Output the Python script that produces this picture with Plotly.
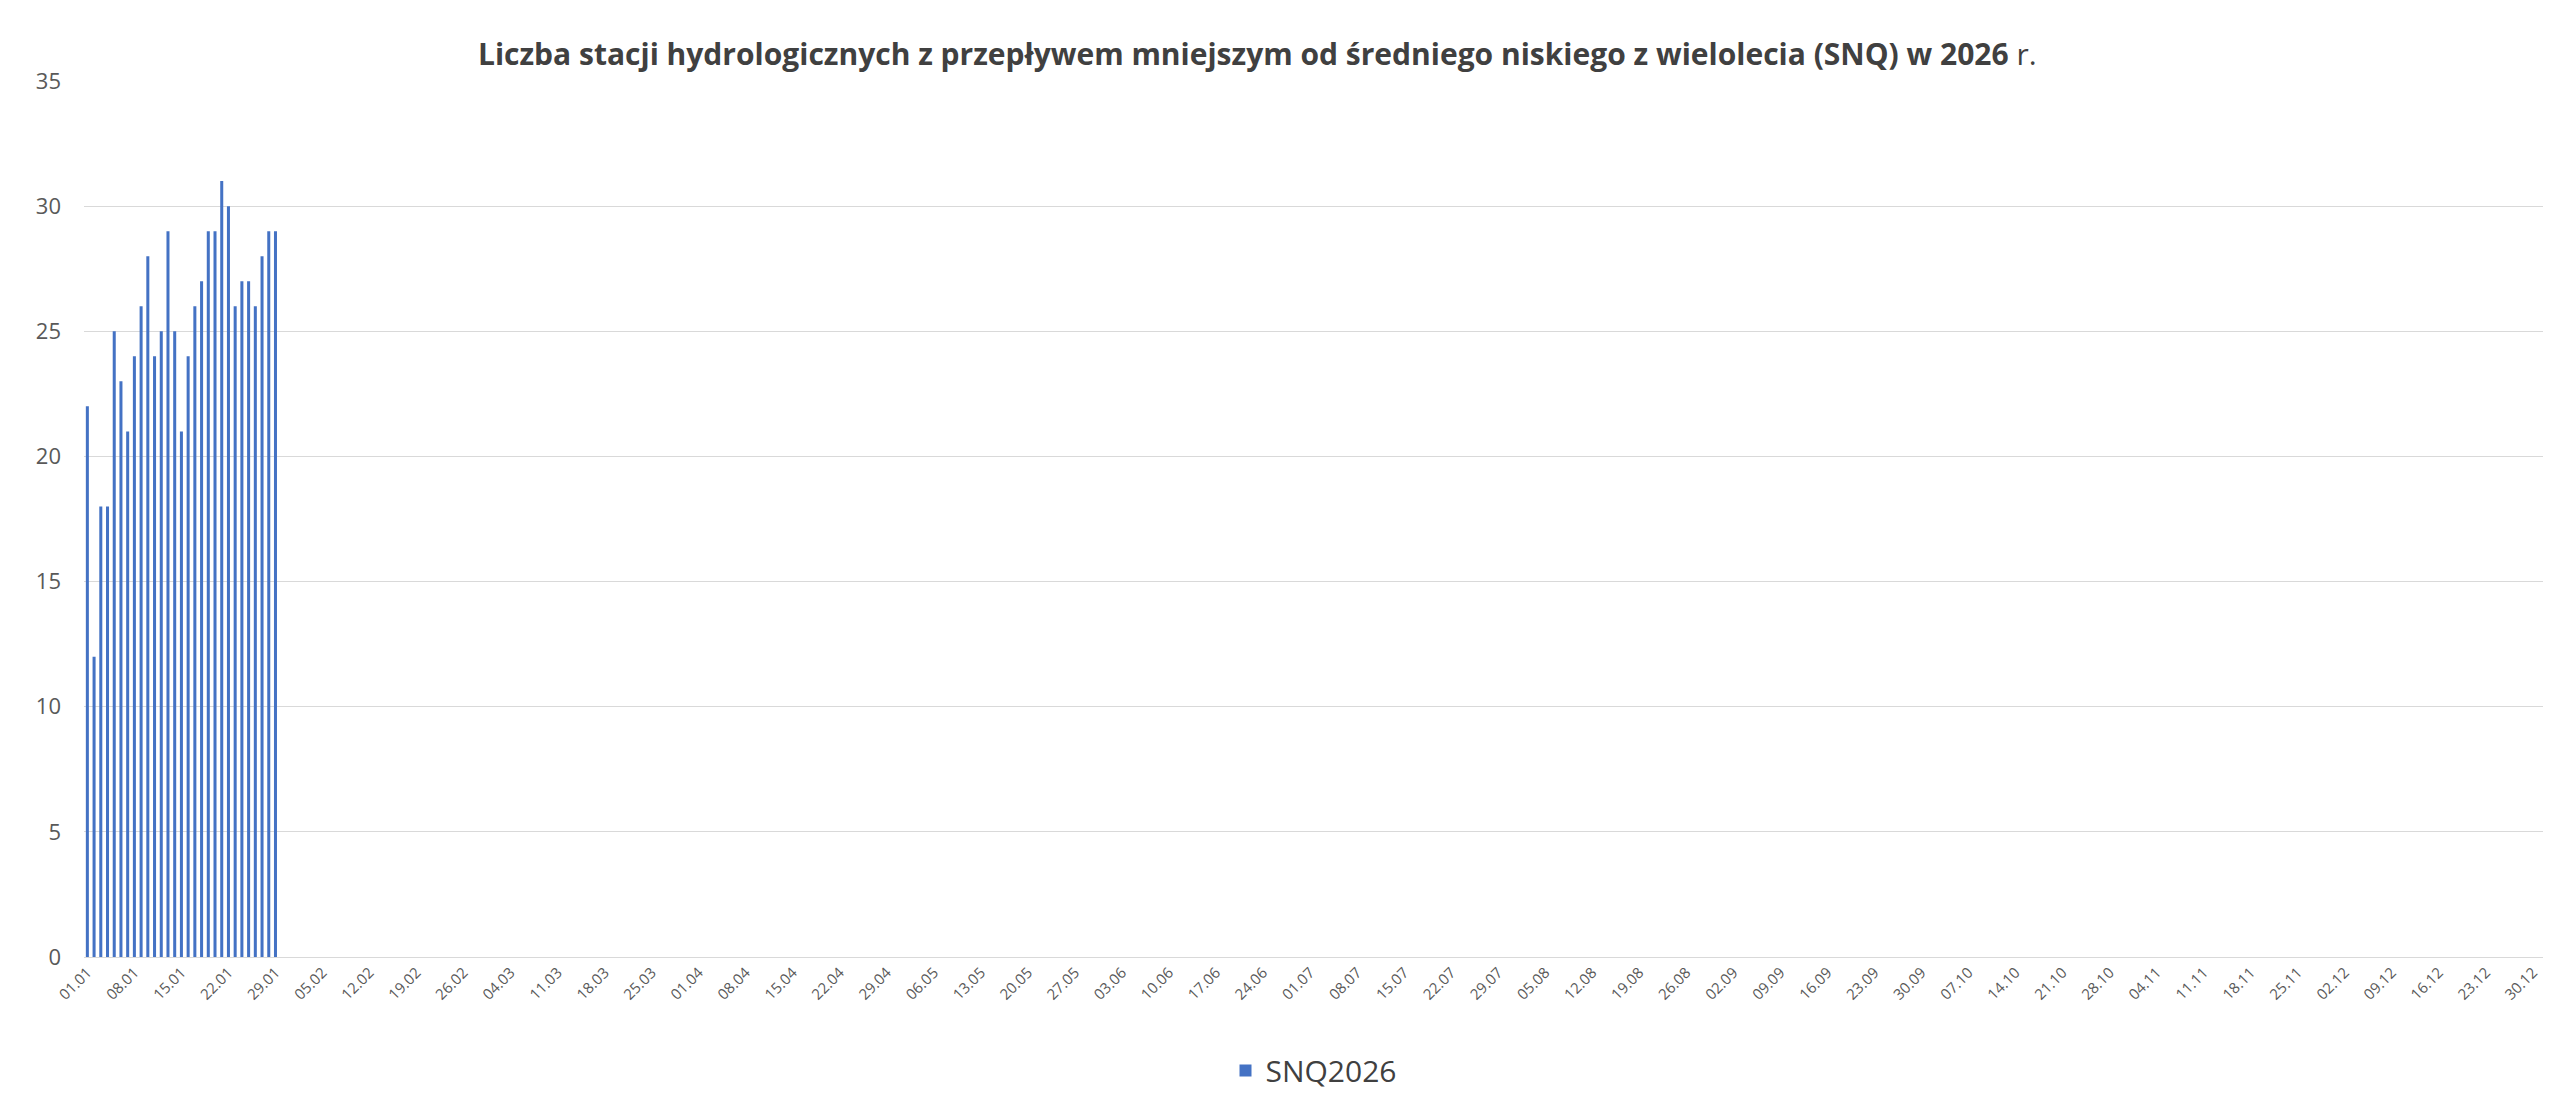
import datetime as dt
import plotly.graph_objects as go

start = dt.date(2024, 1, 1)
dates = [(start + dt.timedelta(days=i)).strftime("%d.%m") for i in range(366)]
values = [22, 12, 18, 18, 25, 23, 21, 24, 26, 28, 24, 25, 29, 25, 21, 24, 26, 27, 29, 29,
          31, 30, 26, 27, 27, 26, 28, 29, 29]
y = values + [None] * (len(dates) - len(values))
tick_labels = dates[::7]

fig = go.Figure(go.Bar(x=dates, y=y, name="SNQ2026", marker_color="#4472C4",
                       marker_line_width=0, width=0.45))
fig.update_layout(
    width=2560, height=1101, paper_bgcolor="white", plot_bgcolor="white",
    margin=dict(l=76, r=25, t=73, b=143),
    title=dict(text="<b>Liczba stacji hydrologicznych z przepływem mniejszym od średniego niskiego z wielolecia (SNQ) w 2026</b> r.",
               x=0.488, y=0.967, xanchor="center", font=dict(family="Open Sans", size=30, color="#404040")),
    font=dict(family="Open Sans", color="#595959"),
    showlegend=True,
    legend=dict(orientation="h", x=0.5, xanchor="center", y=-0.1, yanchor="top",
                font=dict(size=30, color="#404040")),
    bargap=0.5,
    xaxis=dict(type="category", tickmode="array", tickvals=tick_labels, ticktext=tick_labels,
               tickangle=-45, tickfont=dict(size=15), showgrid=False,
               showline=True, linecolor="#d9d9d9", range=[-0.5, 365.5]),
    yaxis=dict(range=[0, 35], dtick=5, gridcolor="#d9d9d9", tickfont=dict(size=22),
               zeroline=False, ticks="", ticklabelstandoff=22),
)
fig.write_html("out.html")
